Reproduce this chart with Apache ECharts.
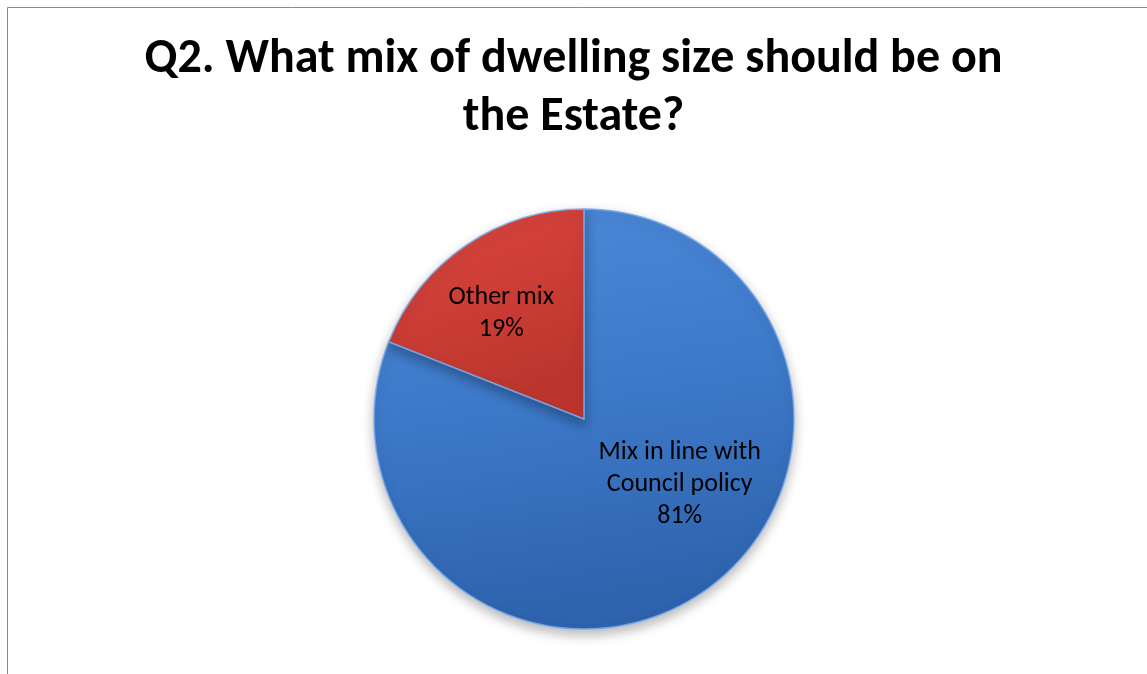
<!DOCTYPE html>
<html>
<head>
<meta charset="utf-8">
<script src="https://cdn.jsdelivr.net/npm/echarts@6/dist/echarts.min.js"></script>
<style>
  html, body { margin: 0; padding: 0; background: #fff; }
  #chart { width: 1147px; height: 674px; }
</style>
</head>
<body>
<div id="chart"></div>
<script>
// Survey answers for Q2
const categories = ['Mix in line with\nCouncil policy', 'Other mix'];
const shares = [81, 19];
const titleText = 'Q2. What mix of dwelling size should be on\nthe Estate?';

// Slice fills and label nudges from the default inside position
const fills = [
  { type: 'linear', x: 0, y: 0, x2: 0.15, y2: 1, colorStops: [
    { offset: 0, color: '#4b89d8' }, { offset: 0.5, color: '#3d79c9' }, { offset: 1, color: '#2e63ad' } ] },
  { type: 'linear', x: 0, y: 0, x2: 0.4, y2: 1, colorStops: [
    { offset: 0, color: '#dc4640' }, { offset: 1, color: '#bb352c' } ] }
];
const labelNudge = [[35, -24], [-22, -16]];

const chart = echarts.init(document.getElementById('chart'), null, { renderer: 'canvas' });
const fontStack = "Carlito, 'Liberation Sans Narrow', 'Open Sans', sans-serif";

chart.setOption({
  backgroundColor: '#ffffff',
  animation: false,
  title: {
    text: titleText,
    left: 'center',
    top: 26,
    textStyle: {
      fontFamily: fontStack,
      fontWeight: 'bold',
      fontSize: 48,
      lineHeight: 58,
      color: '#000'
    }
  },
  graphic: [{
    type: 'rect',
    shape: { x: 7.5, y: 7.5, width: 1300, height: 800 },
    style: { fill: 'none', stroke: '#8a8a8a', lineWidth: 1 },
    silent: true
  }],
  series: [{
    type: 'pie',
    center: [584, 419],
    radius: 210,
    startAngle: 90,
    clockwise: true,
    avoidLabelOverlap: false,
    data: categories.map((name, i) => ({
      name,
      value: shares[i],
      itemStyle: { color: fills[i] }
    })),
    itemStyle: {
      borderColor: 'rgba(120,170,235,0.9)',
      borderWidth: 1.5,
      shadowBlur: 12,
      shadowOffsetY: 5,
      shadowColor: 'rgba(0,0,0,0.28)'
    },
    label: {
      show: true,
      position: 'inside',
      formatter: p => p.name + '\n' + p.value + '%',
      fontFamily: fontStack,
      fontSize: 26,
      lineHeight: 32,
      color: '#000',
      align: 'center'
    },
    labelLine: { show: false },
    labelLayout: p => ({ dx: labelNudge[p.dataIndex][0], dy: labelNudge[p.dataIndex][1] })
  }]
});
</script>
</body>
</html>
